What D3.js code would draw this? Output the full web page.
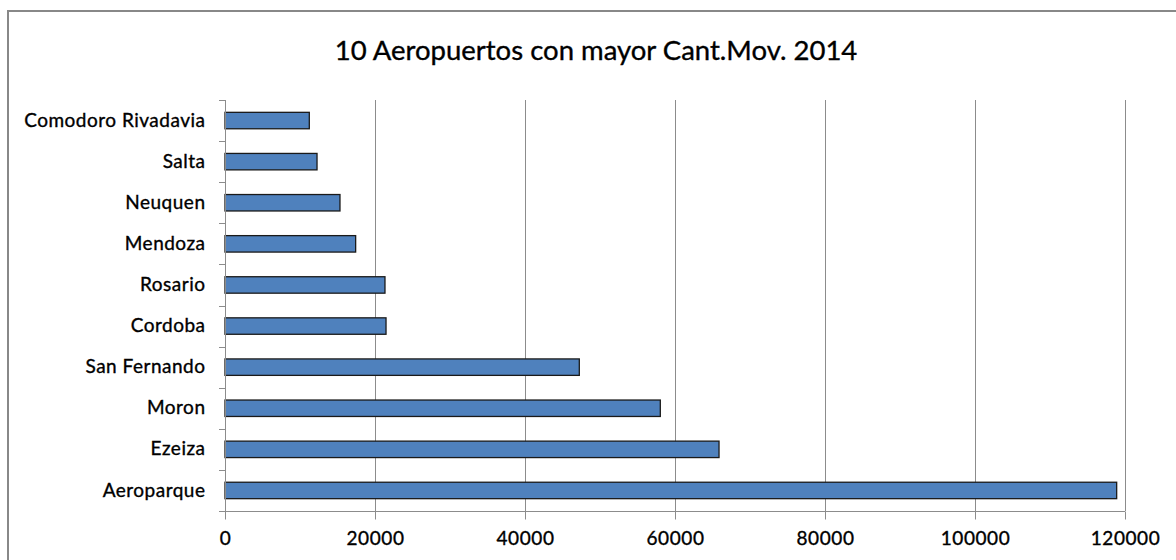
<!DOCTYPE html>
<html><head><meta charset="utf-8">
<script src="https://cdn.jsdelivr.net/npm/d3@7"></script>
<style>
html,body{margin:0;padding:0;background:#fff;}
svg{display:block;}
text{font-family:Lato,"Open Sans",sans-serif;fill:#000;}
</style></head>
<body>
<script>
const title = "10 Aeropuertos con mayor Cant.Mov. 2014";
const categories = ["Comodoro Rivadavia","Salta","Neuquen","Mendoza","Rosario","Cordoba","San Fernando","Moron","Ezeiza","Aeroparque"];
const values = [11240,12270,15330,17420,21330,21470,47240,58040,65870,118890];
const xTicks = [0,20000,40000,60000,80000,100000,120000];

const W=1176,H=560;
const FONT="Lato,'Open Sans',sans-serif";
const svg=d3.select("body").append("svg").attr("width",W).attr("height",H);
svg.append("rect").attr("x",8).attr("y",11).attr("width",W+10).attr("height",H+10)
  .attr("fill","#fff").attr("stroke","#888").attr("stroke-width",2);

const x=d3.scaleLinear().domain([0,120000]).range([225,1125]);
const y=d3.scaleBand().domain(categories).range([100,511]).paddingInner(0.6).paddingOuter(0.3);
const yb=d3.scaleBand().domain(categories).range([100,511]);

svg.append("g").selectAll("line").data(xTicks.slice(1)).join("line")
  .attr("x1",d=>Math.round(x(d))+0.5).attr("x2",d=>Math.round(x(d))+0.5)
  .attr("y1",100).attr("y2",511).attr("stroke","#8c8c8c").attr("stroke-width",1);

svg.append("g").selectAll("rect").data(values).join("rect")
  .attr("x",x(0)).attr("y",(d,i)=>y(categories[i]))
  .attr("width",d=>x(d)-x(0)).attr("height",y.bandwidth())
  .attr("fill","#4f81bd").attr("stroke","#1a1a1a").attr("stroke-width",1.3);

const xa=svg.append("g").attr("transform","translate(0,511.5)")
  .call(d3.axisBottom(x).tickValues(xTicks).tickSize(8).tickPadding(12).tickFormat(d3.format("d")));
xa.select(".domain").attr("stroke","#8c8c8c").attr("d","M225,0H1125");
xa.selectAll(".tick line").attr("stroke","#8c8c8c");
xa.selectAll(".tick text").attr("font-size",19).attr("font-family",FONT).attr("fill","#000")
  .attr("letter-spacing",0.6).attr("stroke","#000").attr("stroke-width",0.35);

const ya=svg.append("g").attr("transform","translate(225.5,0)")
  .call(d3.axisLeft(yb).tickSize(0).tickPadding(20));
ya.select(".domain").attr("stroke","#8c8c8c").attr("d","M0,100V519");
ya.selectAll(".tick text").attr("font-size",19).attr("font-family",FONT).attr("fill","#000")
  .attr("letter-spacing",0.5).attr("stroke","#000").attr("stroke-width",0.35);
svg.append("g").selectAll("line").data(d3.range(categories.length+1)).join("line")
  .attr("x1",219).attr("x2",226).attr("y1",i=>Math.round(100+i*yb.step())+0.5).attr("y2",i=>Math.round(100+i*yb.step())+0.5)
  .attr("stroke","#8c8c8c");

svg.append("text").attr("x",596).attr("y",60).attr("text-anchor","middle")
  .attr("font-size",27.5).attr("stroke","#000").attr("stroke-width",0.35).text(title);
</script>
</body></html>
